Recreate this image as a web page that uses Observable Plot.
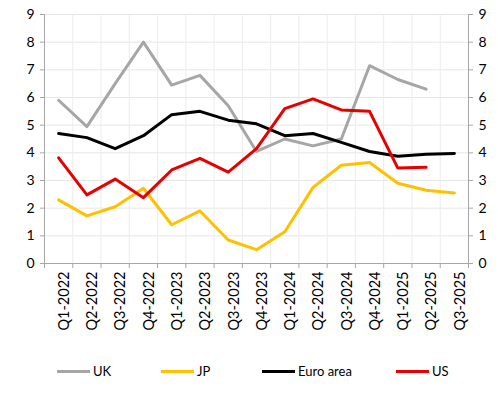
<!DOCTYPE html>
<html>
<head>
<meta charset="utf-8">
<script src="https://cdn.jsdelivr.net/npm/d3@7"></script>
<script src="https://cdn.jsdelivr.net/npm/@observablehq/plot@0.6"></script>
<style>
  body { margin: 0; background: #fff; font-family: Lato, sans-serif; }
  #chart { width: 498px; }
  .legend { position: relative; height: 50px; font-size: 13px; color: #000; }
  .legend .item { position: absolute; top: 18px; display: flex; align-items: center; }
  .legend .sw { width: 33px; height: 3px; margin-right: 3px; }
</style>
</head>
<body>
<div id="chart"></div>
<script>
const quarters = ["Q1-2022","Q2-2022","Q3-2022","Q4-2022","Q1-2023","Q2-2023","Q3-2023","Q4-2023","Q1-2024","Q2-2024","Q3-2024","Q4-2024","Q1-2025","Q2-2025","Q3-2025"];
const uk   = [5.9, 4.95, 6.5, 8.0, 6.45, 6.8, 5.7, 4.05, 4.5, 4.25, 4.5, 7.15, 6.65, 6.3, null];
const jp   = [2.3, 1.72, 2.05, 2.72, 1.4, 1.9, 0.85, 0.5, 1.15, 2.75, 3.55, 3.65, 2.9, 2.65, 2.55];
const euro = [4.7, 4.55, 4.15, 4.62, 5.38, 5.5, 5.18, 5.05, 4.62, 4.7, 4.38, 4.05, 3.88, 3.95, 3.98];
const us   = [3.82, 2.48, 3.05, 2.38, 3.38, 3.8, 3.3, 4.15, 5.6, 5.95, 5.55, 5.5, 3.45, 3.48, null];
const seriesNames = ["UK", "JP", "Euro area", "US"];
const seriesColors = ["#a6a6a6", "#ffc000", "#000000", "#e60000"];
const yTicks = [0,1,2,3,4,5,6,7,8,9];

const seriesValues = [uk, jp, euro, us];
const rows = [];
seriesNames.forEach((name, s) => {
  seriesValues[s].forEach((v, i) => rows.push({series: name, i: i + 0.5, v}));
});
const centers = quarters.map((q, i) => i + 0.5);
const bounds = d3.range(quarters.length + 1);

const plot = Plot.plot({
  width: 498,
  height: 345,
  marginLeft: 44,
  marginRight: 30,
  marginTop: 14,
  marginBottom: 82,
  style: { fontFamily: "Lato, sans-serif", fontSize: "14px", color: "#000", background: "#fff" },
  x: { type: "linear", domain: [0, quarters.length] },
  y: { domain: [0, 9] },
  color: { domain: seriesNames, range: seriesColors },
  marks: [
    Plot.gridY(yTicks, { stroke: "#e6e6e6", strokeOpacity: 1 }),
    Plot.gridX(bounds, { stroke: "#ececec", strokeOpacity: 1 }),
    Plot.ruleX([0, quarters.length], { stroke: "#a6a6a6" }),
    Plot.ruleY([0], { stroke: "#a6a6a6" }),
    Plot.axisY(yTicks, { anchor: "left", tickSize: 4, stroke: "#a6a6a6", tickPadding: 6, label: null, fontSize: 14 }),
    Plot.axisY(yTicks, { anchor: "right", tickSize: 4, stroke: "#a6a6a6", tickPadding: 6, label: null, fontSize: 14 }),
    Plot.axisX(bounds, { tickSize: 5, stroke: "#a6a6a6", tickFormat: () => "", label: null }),
    Plot.axisX(centers, { tickSize: 0, tickPadding: 8, rotate: -90, textAnchor: "end", tickFormat: d => quarters[Math.floor(d)], label: null, fontSize: 14.5 }),
    Plot.line(rows, { x: "i", y: "v", z: "series", stroke: "series", strokeWidth: 3, defined: d => d.v != null })
  ]
});
document.getElementById("chart").appendChild(plot);

const legend = document.createElement("div");
legend.className = "legend";
const lefts = [57, 161, 262, 396];
seriesNames.forEach((name, s) => {
  const item = document.createElement("div");
  item.className = "item";
  item.style.left = lefts[s] + "px";
  const sw = document.createElement("span");
  sw.className = "sw";
  sw.style.background = seriesColors[s];
  const t = document.createElement("span");
  t.textContent = name;
  item.appendChild(sw); item.appendChild(t);
  legend.appendChild(item);
});
document.getElementById("chart").appendChild(legend);
</script>
</body>
</html>
